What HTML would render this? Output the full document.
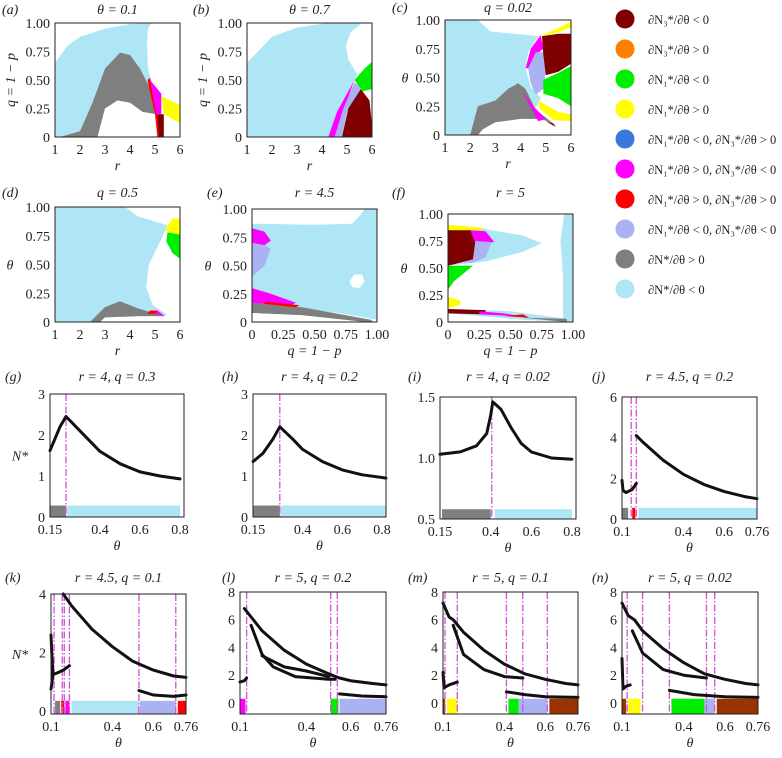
<!DOCTYPE html>
<html><head><meta charset="utf-8"><style>
body{margin:0;background:#fff;font-family:"Liberation Serif",serif}
svg{display:block}
.it{font-style:italic}
</style></head><body>
<svg id="fig" width="782" height="758" viewBox="0 0 782 758"></svg>
<script>
const C={lb:'#aee6f6',gr:'#7f7f7f',dr:'#7f0000',or:'#ff8000',g:'#00ee00',y:'#ffff00',bl:'#3a78dc',m:'#ff00ff',r:'#ff0000',lv:'#aab2f2',br:'#993300'};
const regionsA=[['lb',[1,0,1,.65,1.5,.8,2,.88,3,.95,4,.99,4.85,1,4.72,.95,4.68,.8,4.72,.6,4.85,.5,5.1,0]],
['gr',[1.2,0,2,.05,2.5,.3,3,.6,3.6,.74,4,.72,4.4,.6,4.75,.45,5.1,.35,5.05,.2,4.5,.22,4,.3,3.5,.32,3,.25,2.7,0]],
['w',[2.7,0,3,.25,3.5,.32,4,.3,4.5,.22,5.05,.2,5.05,0]],
['r',[4.7,.5,4.8,.52,5.1,.22,5.2,0,5.1,0,5.0,.2]],
['m',[4.8,.5,5.25,.38,5.25,.2,5.05,.2]],
['y',[5.25,.36,6,.28,6,.12,5.35,.2]],
['dr',[5.1,.2,5.35,.2,5.35,0,5.15,0]]];
const regionsB=[['lb',[1,0,1,.65,2,.88,3,.96,4.2,1,5.6,1,5.15,.92,4.95,.8,5.05,.68,5.4,.55,5.3,.5,4.8,.3,4.25,0]],
['g',[5.3,.5,5.7,.6,6,.66,6,.42,5.6,.4]],
['m',[4.25,0,4.6,.22,5.3,.5,5.1,.38,4.7,.12,4.6,0]],
['lv',[4.5,0,4.85,.25,5.3,.48,5.6,.42,5.0,.22,4.8,0]],
['dr',[4.8,0,5.05,.25,5.55,.42,5.9,.32,6,.1,6,0]]];
const regionsC=[['lb',[1,0,1,1,2.3,1,2.8,.9,4.7,.86,4.3,.72,4.2,.58,4.4,.42,4.8,.32,4.5,.2,4,.15,3,.12,2.5,.05,2.3,0]],
['gr',[2,0,2.3,.25,3,.3,3.5,.4,3.9,.45,4.2,.4,4.6,.22,5.3,.1,4.8,.14,4,.14,3,.11,2.5,.05,2.3,0]],
['m',[4.2,.58,4.4,.75,4.8,.87,4.9,.75,4.6,.7,4.4,.58]],
['lv',[4.3,.58,4.6,.72,4.9,.72,5,.55,4.9,.4,4.6,.35,4.4,.45]],
['m',[4.1,.38,4.5,.25,5,.14,4.7,.12,4.3,.28]],
['dr',[4.85,.86,5.5,.88,6,.88,6,.62,5.5,.55,5,.52,4.9,.7]],
['g',[4.9,.48,5.5,.54,6,.6,6,.25,5.5,.32,4.9,.36]],
['y',[4.7,.3,5.5,.2,6,.18,6,.12,5.3,.13,4.75,.23]],
['y',[4.75,.86,5.5,.93,6,.99,6,.94,5.5,.89]],
['dr',[5,.12,5.4,.07,5.3,.1]]];
const regionsD=[['lb',[1,0,1,1,3.8,1,4.3,.92,5.5,.84,5.1,.65,4.75,.5,4.65,.3,4.9,.15,5.5,.06,4.5,.04,3,.03,2.4,0]],
['gr',[2.4,0,3,.13,3.6,.18,4.3,.12,5.4,.05,4.3,.05,3,.03,2.8,0]],
['w',[2.8,0,3,.04,4.3,.05,5.4,.05,5.6,0]],
['r',[4.7,.07,5.1,.07,5.1,.1,4.8,.1]],['m',[5.0,.07,5.4,.05,5.1,.1]],
['y',[5.4,.8,5.7,.9,6,.9,6,.75,5.6,.78]],
['g',[5.5,.78,6,.76,6,.55,5.7,.6,5.45,.7]]];
const regionsE=[['lb',[0,.1,0,.87,.5,.86,.8,.87,.87,.95,.9,1,1,1,1,.02,.7,.08,.3,.12,0,.17]],
['gr',[0,.17,.4,.13,.95,.02,.97,0,.9,0,.4,.06,0,.08]],
['w',[0,0,0,.08,.4,.06,.9,0]],
['w',[.78,.36,.82,.42,.88,.42,.9,.36,.86,.3,.8,.31]],
['m',[0,.83,.1,.8,.15,.72,.1,.68,0,.7]],
['lv',[0,.7,.1,.68,.15,.65,.1,.5,0,.4]],
['m',[0,.3,.15,.25,.35,.17,.3,.14,0,.17]],
['r',[.1,.18,.38,.15,.35,.13,.1,.16]]];
const regionsF=[['lb',[0,.52,.3,.56,.6,.65,.75,.73,.6,.8,.3,.86,0,.87]],
['lb',[.92,0,.92,.4,.9,.75,.93,1,1,1,1,0]],
['lb',[0,.12,.5,.1,.95,.03,1,.03,1,0,.6,.02,0,.08]],
['y',[0,.82,.2,.82,.3,.87,0,.9]],
['dr',[0,.52,.2,.58,.22,.75,.18,.85,0,.85]],
['m',[.18,.85,.3,.84,.37,.74,.22,.72]],
['lv',[.12,.55,.2,.58,.22,.75,.35,.74,.3,.6,.2,.55]],
['g',[0,.3,.05,.38,.2,.52,0,.52]],
['y',[0,.13,.1,.16,.1,.2,0,.23]],
['dr',[0,.08,.3,.07,.3,.11,0,.12]],
['m',[.25,.07,.6,.05,.45,.08,.25,.1]],
['r',[.45,.055,.65,.04,.6,.07]],
['gr',[.6,.04,.95,.0,.95,.03]]];
const gX=[.15,.2,.23,.3,.4,.5,.6,.7,.8], gY=[1.62,2.2,2.45,2.1,1.6,1.3,1.1,1.0,.93];
const hX=[.15,.2,.25,.285,.35,.4,.5,.6,.7,.82], hY=[1.35,1.55,1.9,2.2,1.9,1.65,1.35,1.15,1.03,.95];
const iX=[.15,.25,.33,.38,.4,.41,.45,.5,.55,.6,.7,.8], iY=[1.03,1.05,1.1,1.2,1.35,1.46,1.4,1.25,1.12,1.05,1.0,.99];
const jX1=[.1,.105,.12,.15,.17], jY1=[1.9,1.4,1.3,1.45,1.75];
const jX2=[.17,.2,.3,.4,.5,.6,.7,.76], jY2=[4.1,3.8,2.9,2.2,1.7,1.35,1.1,1.0];
const kX1=[.1,.11,.13,.16,.19], kY1=[.75,1.25,1.3,1.4,1.55];
const kX2=[.1,.105,.11], kY2=[2.6,1.8,1.25];
const kX3=[.16,.2,.3,.4,.5,.6,.7,.76], kY3=[4.0,3.6,2.8,2.2,1.7,1.4,1.2,1.15];
const kX4=[.53,.6,.7,.76], kY4=[.7,.55,.5,.55];
const lX1=[.12,.15,.2,.3,.4,.5,.55,.6,.7,.76], lY1=[6.8,6.2,5.2,3.8,2.8,2.1,1.8,1.6,1.4,1.3];
const lX2=[.15,.2,.25,.35,.5,.53], lY2=[5.6,3.5,2.6,1.9,1.7,1.7];
const lX3=[.2,.3,.4,.5], lY3=[3.4,2.6,2.3,1.9];
const lX4=[.55,.65,.76], lY4=[.65,.5,.45];
const lX5=[.1,.12,.13], lY5=[1.5,1.6,1.8];
const mX1=[.1,.13,.15,.2,.3,.4,.5,.6,.7,.76], mY1=[7.2,6.2,6.0,5.1,3.8,2.8,2.1,1.7,1.4,1.3];
const mX2=[.15,.2,.3,.4,.49], mY2=[5.6,3.5,2.4,1.9,1.8];
const mX3=[.1,.105,.13,.17], mY3=[2.2,1.1,1.3,1.5];
const mX4=[.41,.5,.6,.76], mY4=[.8,.6,.45,.4];
const nX1=[.1,.13,.16,.2,.3,.4,.5,.6,.7,.76], nY1=[7.2,6.3,6.0,5.2,3.9,2.9,2.1,1.7,1.4,1.3];
const nX2=[.15,.2,.3,.4,.51], nY2=[5.2,3.6,2.4,2.0,1.8];
const nX3=[.1,.105,.12,.14], nY3=[3.2,1.0,1.2,1.3];
const nX4=[.33,.45,.6,.76], nY4=[.9,.6,.45,.4];
const gV=[.23], hV=[.285], iV=[.405], jV=[.145,.17], kV=[.115,.155,.165,.19,.53,.71], lV=[.13,.51,.54], mV=[.11,.17,.41,.49,.61], nV=[.125,.2,.33,.51,.55];
const gBars=[['gr',.15,.23],['lb',.235,.8]], hBars=[['gr',.15,.285],['lb',.29,.82]], iBars=[['gr',.16,.4],['lb',.42,.8]];
const jBars=[['gr',.1,.13],['r',.15,.165],['lb',.18,.76]];
const kBars=[['gr',.12,.145],['r',.15,.165],['m',.17,.19],['lb',.2,.53],['lv',.535,.71],['r',.72,.76]];
const lBars=[['m',.1,.125],['g',.51,.545],['lv',.55,.76]];
const mBars=[['br',.1,.11],['y',.12,.17],['g',.42,.47],['lv',.47,.61],['br',.62,.76]];
const nBars=[['br',.1,.12],['y',.13,.19],['g',.34,.5],['lv',.5,.55],['br',.56,.76]];
const legendLabels=[['dr','∂N₃*/∂θ < 0'],['or','∂N₃*/∂θ > 0'],['g','∂N₁*/∂θ < 0'],['y','∂N₁*/∂θ > 0'],['bl','∂N₁*/∂θ < 0, ∂N₃*/∂θ > 0'],['m','∂N₁*/∂θ > 0, ∂N₃*/∂θ < 0'],['r','∂N₁*/∂θ > 0, ∂N₃*/∂θ > 0'],['lv','∂N₁*/∂θ < 0, ∂N₃*/∂θ < 0'],['gr','∂N*/∂θ > 0'],['lb','∂N*/∂θ < 0']];

const svg=document.getElementById('fig');const NS='http://www.w3.org/2000/svg';
function mk(tag,attrs,parent){const e=document.createElementNS(NS,tag);for(const k in attrs)e.setAttribute(k,attrs[k]);(parent||svg).appendChild(e);return e;}
function txt(x,y,s,anchor,parent,cls,fs){
  const t=mk('text',{x:x,y:y,'text-anchor':anchor||'middle','font-family':'Liberation Serif','font-size':fs||14,fill:'#222'},parent);
  t.style.fontFamily='"Liberation Serif", serif';
  if(cls)t.setAttribute('font-style','italic');
  t.textContent=s;return t;}
function scale(d0,d1,p0,p1){return v=>p0+(v-d0)/(d1-d0)*(p1-p0);}
function col(k){return k==='w'?'#fff':C[k];}

function panel(o){
  const g=mk('g',{});
  
  
  const sx=scale(o.xd[0],o.xd[1],o.x0,o.x1), sy=scale(o.yd[0],o.yd[1],o.y1,o.y0);
  if(o.regions){o.regions.forEach(rg=>{
    let pts=[];for(let j=0;j<rg[1].length;j+=2)pts.push(sx(rg[1][j]).toFixed(1)+','+sy(rg[1][j+1]).toFixed(1));
    const p=mk('polygon',{points:pts.join(' '),fill:col(rg[0])},g);
    
    
  });}
  if(o.bars){o.bars.forEach(b=>{
    const r=mk('rect',{x:sx(b[1]),y:sy(o.barTop),width:sx(b[2])-sx(b[1]),height:sy(o.barBot)-sy(o.barTop),fill:C[b[0]]},g);
    
    
  });}
  if(o.vlines){o.vlines.forEach(v=>{
    const l=mk('line',{x1:sx(v),x2:sx(v),y1:o.y0,y2:o.y1,stroke:'#d24fd2','stroke-width':1.3,'stroke-dasharray':'7 2 1.5 2'},g);
    
    
  });}
  if(o.lines){o.lines.forEach(ln=>{
    const d=ln[0].map((x,i)=>(i?'L':'M')+sx(x).toFixed(1)+','+sy(ln[1][i]).toFixed(1)).join('');
    const p=mk('path',{d:d,fill:'none',stroke:'#111','stroke-width':3,'stroke-linejoin':'round','stroke-linecap':'round'},g);
    
    
  });}
  const fr=mk('rect',{x:o.x0,y:o.y0,width:o.x1-o.x0,height:o.y1-o.y0,fill:'none',stroke:'#222','stroke-width':1},g);
  
  
  o.xt.forEach(t=>{const e=txt(sx(t[0]),o.y1+17,t[1],'middle',g);});
  o.yt.forEach(t=>{const e=txt(o.x0-5,sy(t[0])+5,t[1],'end',g);});
  let e=txt((o.x0+o.x1)/2,o.y1+33,o.xl,'middle',g,1);
  if(o.yl){
    if(o.ylRot){e=txt(0,0,o.yl,'middle',g,1);e.setAttribute('transform','translate('+(o.x0-40)+','+((o.y0+o.y1)/2)+') rotate(-90)');}
    else e=txt(o.ylx,(o.y0+o.y1)/2+5,o.yl,'middle',g,1);
    }
  e=txt((o.x0+o.x1)/2,o.ty,o.title,'middle',g,1);
  e=txt(o.lx,o.ty,'('+o.id+')','start',g,1);
}
const rT=[[1,'1'],[2,'2'],[3,'3'],[4,'4'],[5,'5'],[6,'6']];
const qY=[[0,'0'],[.25,'0.25'],[.5,'0.50'],[.75,'0.75'],[1,'1.00']];
const qX=[[0,'0'],[.25,'0.25'],[.5,'0.50'],[.75,'0.75'],[1,'1.00']];
panel({id:'a',x0:55,x1:180,y0:23,y1:137,xd:[1,6],yd:[0,1],regions:regionsA,xt:rT,yt:qY,xl:'r',yl:'q = 1 − p',ylRot:1,title:'θ = 0.1',ty:14,lx:2});
panel({id:'b',x0:247,x1:372,y0:23,y1:137,xd:[1,6],yd:[0,1],regions:regionsB,xt:rT,yt:qY,xl:'r',yl:'q = 1 − p',ylRot:1,title:'θ = 0.7',ty:14,lx:193});
panel({id:'c',x0:445,x1:571,y0:20,y1:135,xd:[1,6],yd:[0,1],regions:regionsC,xt:rT,yt:qY,xl:'r',yl:'θ',ylx:405,title:'q = 0.02',ty:12,lx:392});
panel({id:'d',x0:55,x1:180,y0:207,y1:322,xd:[1,6],yd:[0,1],regions:regionsD,xt:rT,yt:qY,xl:'r',yl:'θ',ylx:10,title:'q = 0.5',ty:197,lx:2});
panel({id:'e',x0:252,x1:377,y0:209,y1:322,xd:[0,1],yd:[0,1],regions:regionsE,xt:qX,yt:qY,xl:'q = 1 − p',yl:'θ',ylx:208,title:'r = 4.5',ty:197,lx:207});
panel({id:'f',x0:448,x1:573,y0:214,y1:322,xd:[0,1],yd:[0,1],regions:regionsF,xt:qX,yt:qY,xl:'q = 1 − p',yl:'θ',ylx:404,title:'r = 5',ty:197,lx:392});
const t3=[[.15,'0.15'],[.4,'0.4'],[.6,'0.6'],[.8,'0.8']], t76=[[.1,'0.1'],[.4,'0.4'],[.6,'0.6'],[.76,'0.76']];
panel({id:'g',x0:50,x1:184,y0:394,y1:517,xd:[.15,.82],yd:[0,3],lines:[[gX,gY]],vlines:gV,bars:gBars,barTop:.28,barBot:0,xt:t3,yt:[[0,'0'],[1,'1'],[2,'2'],[3,'3']],xl:'θ',yl:'N*',ylx:20,title:'r = 4, q = 0.3',ty:381,lx:5});
panel({id:'h',x0:253,x1:386,y0:394,y1:517,xd:[.15,.82],yd:[0,3],lines:[[hX,hY]],vlines:hV,bars:hBars,barTop:.28,barBot:0,xt:t3,yt:[[0,'0'],[1,'1'],[2,'2'],[3,'3']],xl:'θ',title:'r = 4, q = 0.2',ty:381,lx:222});
panel({id:'i',x0:440,x1:576,y0:397,y1:519,xd:[.15,.82],yd:[.5,1.5],lines:[[iX,iY]],vlines:iV,bars:iBars,barTop:.58,barBot:.5,xt:t3,yt:[[.5,'0.5'],[1,'1.0'],[1.5,'1.5']],xl:'θ',title:'r = 4, q = 0.02',ty:381,lx:408});
panel({id:'j',x0:622,x1:757,y0:397,y1:519,xd:[.1,.76],yd:[0,6],lines:[[jX1,jY1],[jX2,jY2]],vlines:jV,bars:jBars,barTop:.55,barBot:0,xt:t76,yt:[[0,'0'],[2,'2'],[4,'4'],[6,'6']],xl:'θ',title:'r = 4.5, q = 0.2',ty:381,lx:592});
panel({id:'k',x0:51,x1:186,y0:594,y1:714,xd:[.1,.76],yd:[-.1,4],lines:[[kX1,kY1],[kX2,kY2],[kX3,kY3],[kX4,kY4]],vlines:kV,bars:kBars,barTop:.35,barBot:-.1,xt:t76,yt:[[0,'0'],[2,'2'],[4,'4']],xl:'θ',yl:'N*',ylx:20,title:'r = 4.5, q = 0.1',ty:582,lx:5});
const t8=[[0,'0'],[2,'2'],[4,'4'],[6,'6'],[8,'8']];
panel({id:'l',x0:240,x1:386,y0:592,y1:714,xd:[.1,.76],yd:[-.8,8],lines:[[lX1,lY1],[lX2,lY2],[lX3,lY3],[lX4,lY4],[lX5,lY5]],vlines:lV,bars:lBars,barTop:.3,barBot:-.8,xt:t76,yt:t8,xl:'θ',title:'r = 5, q = 0.2',ty:582,lx:222});
panel({id:'m',x0:443,x1:578,y0:592,y1:714,xd:[.1,.76],yd:[-.8,8],lines:[[mX1,mY1],[mX2,mY2],[mX3,mY3],[mX4,mY4]],vlines:mV,bars:mBars,barTop:.3,barBot:-.8,xt:t76,yt:t8,xl:'θ',title:'r = 5, q = 0.1',ty:582,lx:408});
panel({id:'n',x0:622,x1:758,y0:592,y1:714,xd:[.1,.76],yd:[-.8,8],lines:[[nX1,nY1],[nX2,nY2],[nX3,nY3],[nX4,nY4]],vlines:nV,bars:nBars,barTop:.3,barBot:-.8,xt:t76,yt:t8,xl:'θ',title:'r = 5, q = 0.02',ty:582,lx:592});
const lg=mk('g',{});


legendLabels.forEach((L,i)=>{
  const y=19+i*30;
  const c=mk('circle',{cx:625,cy:y,r:9.5,fill:C[L[0]]},lg);
  
  
  const t=txt(648,y+5,L[1],'start',lg,0,12.5);
  
  
});
</script>
</body></html>
